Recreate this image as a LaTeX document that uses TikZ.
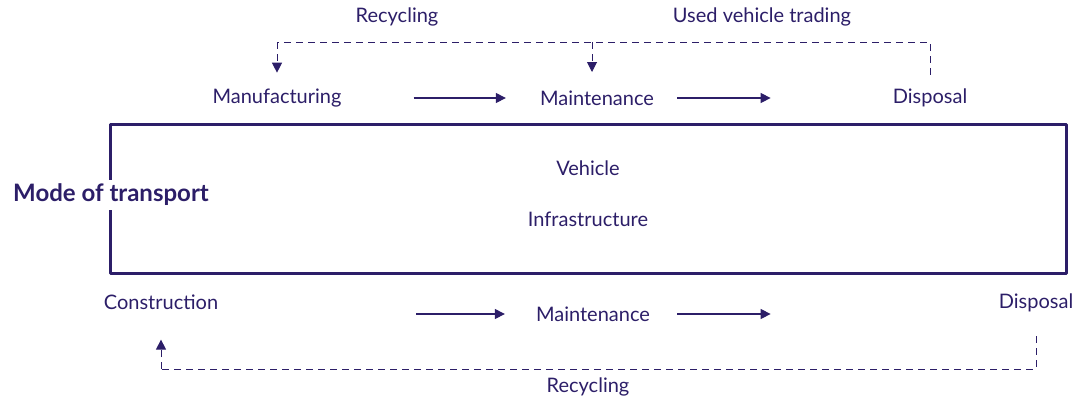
\documentclass[tikz,border=0pt]{standalone}
\usepackage{fontspec}
\setmainfont{Lato}
\usetikzlibrary{arrows.meta}
\definecolor{indigo}{RGB}{44,30,104}
\tikzset{
  stage/.style={font=\fontsize{20}{24}\selectfont, text=indigo, inner sep=2pt},
  flow/.style={-{Triangle[length=10pt,width=10pt]}, line width=1.1pt, draw=indigo},
  loop/.style={draw=indigo, line width=1pt, dash pattern=on 7pt off 5pt},
  looptip/.style={loop, -{Triangle[length=10pt,width=10pt]}}
}
\begin{document}
\begin{tikzpicture}[x=1pt, y=-1pt, line join=round]
\useasboundingbox (0,0) rectangle (1084,399);
% frame
\draw[indigo, line width=3pt] (110,124) rectangle (1066,273);
\node[stage, font=\fontsize{24}{28}\selectfont\bfseries, fill=white, inner sep=4pt] (mode) at (111,195) {Mode of transport};
\node[stage] (veh) at (588,168) {Vehicle};
\node[stage] (infra) at (588,219) {Infrastructure};
% vehicle stages
\node[stage] (manu) at (277,98) {Manufacturing};
\node[stage] (vmaint) at (597,98) {Maintenance};
\node[stage] (vdisp) at (930,98) {Disposal};
\draw[flow, shorten <=70pt, shorten >=32pt] (manu) -- (vmaint);
\draw[flow, shorten <=21pt, shorten >=120pt] (vmaint) -- (vdisp);
% infrastructure stages
\node[stage] (constr) at (161,302) {Construction};
\node[stage] (imaint) at (593,314) {Maintenance};
\node[stage] (idisp) at (1036,303) {Disposal};
\draw[flow, shorten <=196pt, shorten >=29pt] (constr.east |- imaint) -- (imaint);
\draw[flow, shorten <=25pt, shorten >=226pt] (imaint) -- (imaint -| idisp.west);
% loops
\coordinate (top) at (0,42);
\coordinate (bottom) at (0,369);
\draw[loop, shorten <=12pt] (vdisp.north) -- (vdisp.north |- top) -| (manu.north |- top);
\draw[looptip, shorten >=14pt] (manu.north |- top) -- (manu.north);
\draw[looptip, shorten >=16pt] (592,42) -- (592,88);
\draw[loop, shorten <=22pt] (idisp.south) -- (idisp.south |- bottom) -| (constr.south |- bottom);
\draw[looptip, shorten >=28pt] (constr.south |- bottom) -- (constr.south);
\node[stage] (recyc1) at (397,17) {Recycling};
\node[stage] (trade) at (762,17) {Used vehicle trading};
\node[stage] (recyc2) at (588,387) {Recycling};
\end{tikzpicture}
\end{document}
